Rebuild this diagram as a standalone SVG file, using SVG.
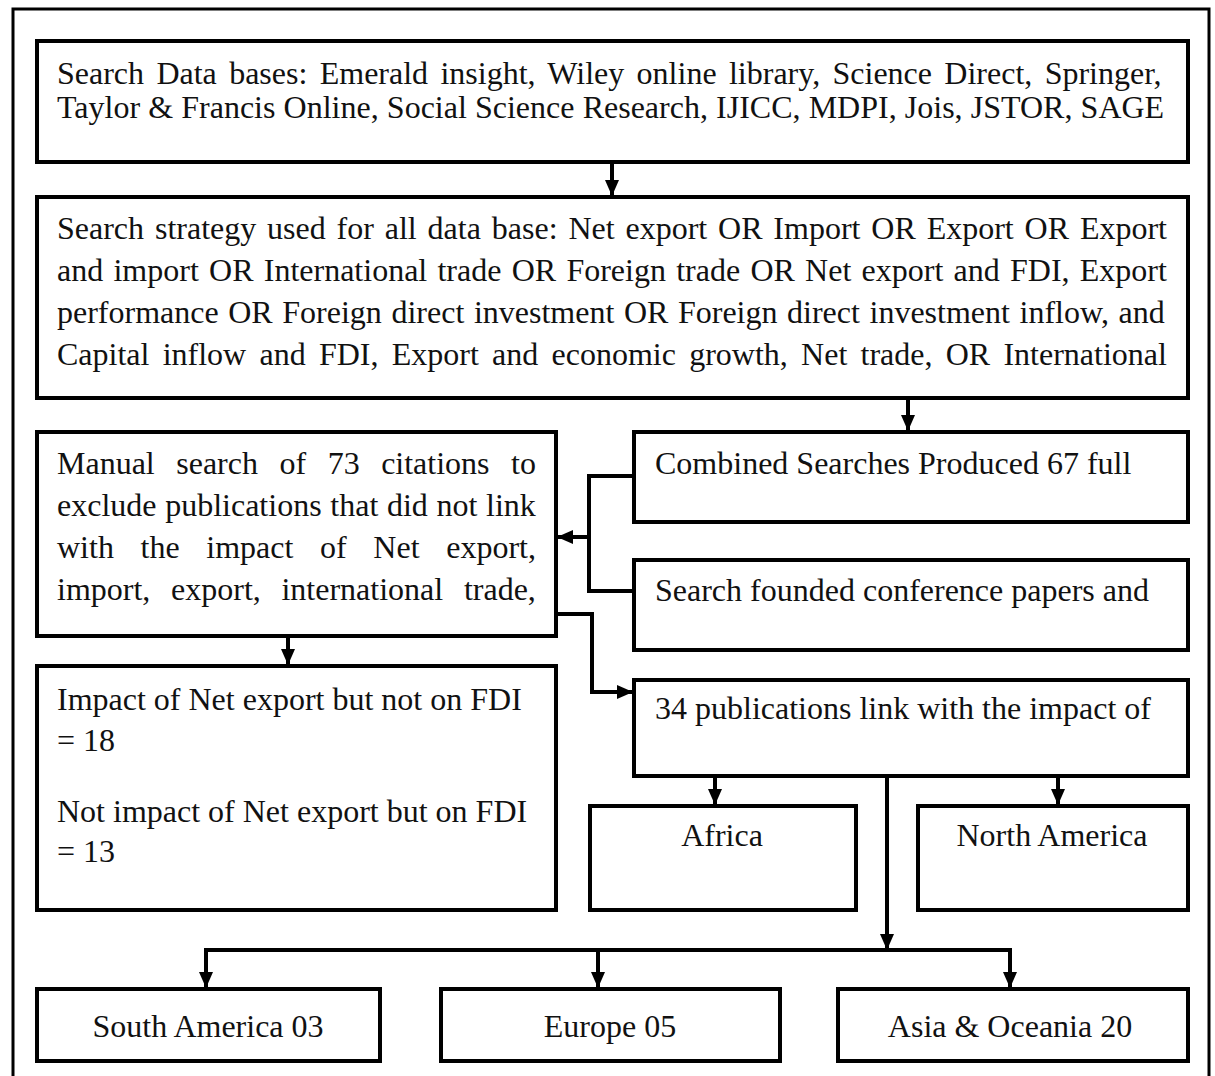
<svg xmlns="http://www.w3.org/2000/svg" width="1215" height="1076" viewBox="0 0 1215 1076">
<style>
.box{fill:#fff;stroke:#000;stroke-width:4}
.frame{fill:#fff;stroke:#000;stroke-width:3}
.t{font-family:"Liberation Serif","Times New Roman",serif;font-size:32px;fill:#111}
.c{text-anchor:middle}
.ln{fill:none;stroke:#000;stroke-width:4}
</style>
<defs>
<marker id="ah" viewBox="0 0 16 14" refX="16" refY="7" markerWidth="16" markerHeight="14" markerUnits="userSpaceOnUse" orient="auto">
<path d="M0,0 L16,7 L0,14 Z" fill="#000"/>
</marker>
</defs>
<rect class="frame" x="13" y="9" width="1196" height="1090"/>
<g id="connectors">
<path class="ln" d="M612,162 V196" marker-end="url(#ah)"/>
<path class="ln" d="M908,398 V431" marker-end="url(#ah)"/>
<path class="ln" d="M634,476 H589 V591 H634"/>
<path class="ln" d="M589,537 H557" marker-end="url(#ah)"/>
<path class="ln" d="M556,614 H592 V692 H633" marker-end="url(#ah)"/>
<path class="ln" d="M288,636 V665" marker-end="url(#ah)"/>
<path class="ln" d="M715,776 V805" marker-end="url(#ah)"/>
<path class="ln" d="M1058,776 V805" marker-end="url(#ah)"/>
<path class="ln" d="M887,776 V950" marker-end="url(#ah)"/>
<path class="ln" d="M206,988 V950 H1010 V988" marker-end="url(#ah)"/>
<path class="ln" d="M206,950 V988" marker-end="url(#ah)"/>
<path class="ln" d="M598,950 V988" marker-end="url(#ah)"/>
</g>
<g id="n1">
<rect class="box" x="37" y="41" width="1151" height="121"/>
<text class="t" x="57" y="84" word-spacing="4.35">Search Data bases: Emerald insight, Wiley online library, Science Direct, Springer,</text>
<text class="t" x="57" y="118" word-spacing="0.15">Taylor &amp; Francis Online, Social Science Research, IJICC, MDPI, Jois, JSTOR, SAGE</text>
</g>
<g id="n2">
<rect class="box" x="37" y="197" width="1151" height="201"/>
<text class="t" x="57" y="239" word-spacing="2.86">Search strategy used for all data base: Net export OR Import OR Export OR Export</text>
<text class="t" x="57" y="281" word-spacing="2.25">and import OR International trade OR Foreign trade OR Net export and FDI, Export</text>
<text class="t" x="57" y="323" word-spacing="1.59">performance OR Foreign direct investment OR Foreign direct investment inflow, and</text>
<text class="t" x="57" y="365" word-spacing="5.25">Capital inflow and FDI, Export and economic growth, Net trade, OR International</text>
</g>
<g id="n3">
<rect class="box" x="37" y="432" width="519" height="204"/>
<text class="t" x="57" y="474" word-spacing="13.5">Manual search of 73 citations to</text>
<text class="t" x="57" y="516" word-spacing="0.68">exclude publications that did not link</text>
<text class="t" x="57" y="558" word-spacing="18.66">with the impact of Net export,</text>
<text class="t" x="57" y="600" word-spacing="12.7">import, export, international trade,</text>
</g>
<g id="n4">
<rect class="box" x="634" y="432" width="554" height="90"/>
<text class="t" x="655" y="474">Combined Searches Produced 67 full</text>
</g>
<g id="n5">
<rect class="box" x="634" y="560" width="554" height="90"/>
<text class="t" x="655" y="601">Search founded conference papers and</text>
</g>
<g id="n6">
<rect class="box" x="37" y="666" width="519" height="244"/>
<text class="t" x="57" y="710">Impact of Net export but not on FDI</text>
<text class="t" x="57" y="751">= 18</text>
<text class="t" x="57" y="822">Not impact of Net export but on FDI</text>
<text class="t" x="57" y="862">= 13</text>
</g>
<g id="n7">
<rect class="box" x="634" y="680" width="554" height="96"/>
<text class="t" x="655" y="719">34 publications link with the impact of</text>
</g>
<g id="n8">
<rect class="box" x="590" y="806" width="266" height="104"/>
<text class="t c" x="722" y="846">Africa</text>
</g>
<g id="n9">
<rect class="box" x="918" y="806" width="270" height="104"/>
<text class="t c" x="1052" y="846">North America</text>
</g>
<g id="n10">
<rect class="box" x="37" y="989" width="343" height="72"/>
<text class="t c" x="208" y="1037">South America 03</text>
</g>
<g id="n11">
<rect class="box" x="441" y="989" width="339" height="72"/>
<text class="t c" x="610" y="1037">Europe 05</text>
</g>
<g id="n12">
<rect class="box" x="838" y="989" width="350" height="72"/>
<text class="t c" x="1010" y="1037">Asia &amp; Oceania 20</text>
</g>
</svg>
